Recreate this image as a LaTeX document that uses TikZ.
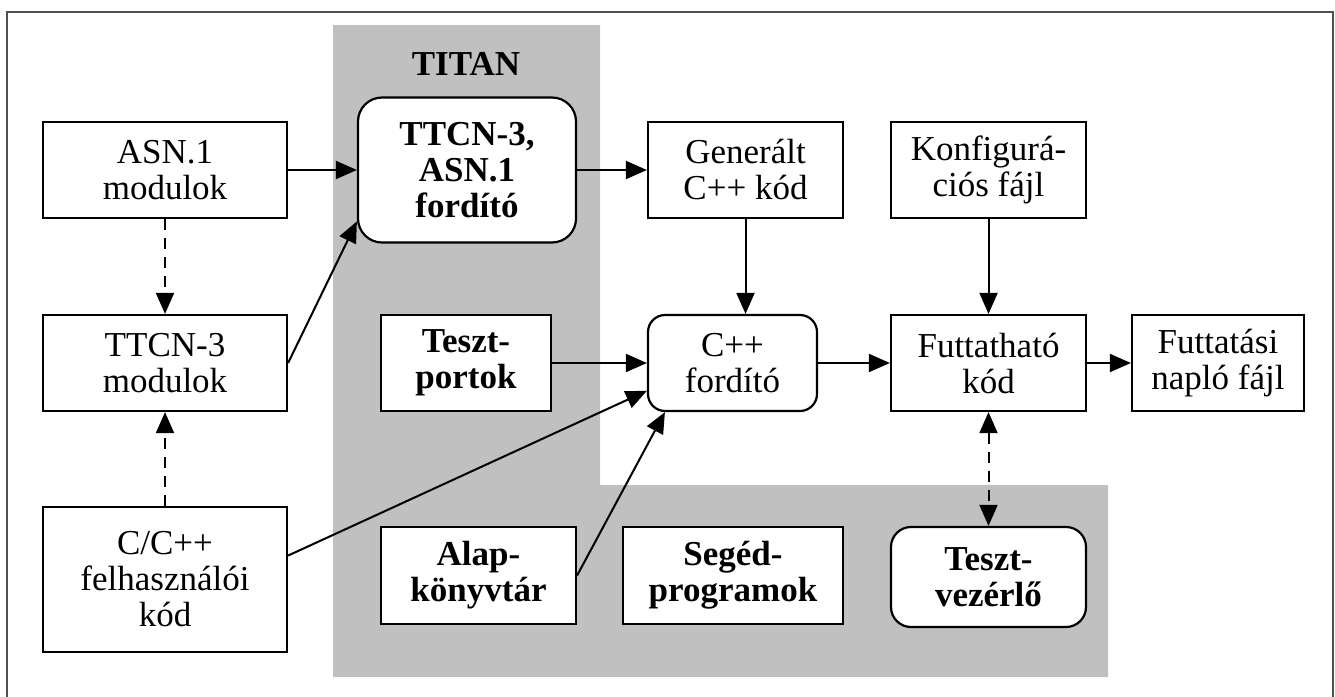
\documentclass[tikz,border=0pt]{standalone}
\usepackage{fontspec}
\setmainfont{Liberation Serif}
\usetikzlibrary{arrows.meta}
\definecolor{titangray}{RGB}{192,192,192}
\definecolor{framegray}{RGB}{80,80,80}
\begin{document}
\begin{tikzpicture}[x=1pt,y=-1pt,
  >={Triangle[length=21pt,width=18pt]},
  box/.style={draw, line width=2.2pt, fill=white, align=center, inner sep=0pt,
    font=\fontsize{35}{36}\selectfont},
  rbox/.style={box, rounded corners=20pt},
  bold/.style={font=\bfseries\fontsize{35}{36}\selectfont},
  arr/.style={line width=2pt, ->},
  darr/.style={line width=2pt, dash pattern=on 11pt off 8pt}
]
\useasboundingbox (0,0) rectangle (1335,696);
% TITAN region
\fill[titangray] (333,25) -- (600,25) -- (600,485) -- (1108,485) -- (1108,677) -- (333,677) -- cycle;
% frame
\draw[framegray, line width=1.5pt] (7,720) -- (7,12) -- (1333,12) -- (1333,720);
\node[bold, inner sep=0pt] (titan) at (466,64) {TITAN};

% nodes
\node[box, minimum width=244pt, minimum height=96pt] (asn) at (165,170) {ASN.1\\modulok};
\node[rbox, bold, rounded corners=24pt, minimum width=218pt, minimum height=145pt] (comp) at (467,170) {TTCN-3,\\ASN.1\\fordító};
\node[box, minimum width=195pt, minimum height=96pt] (gen) at (745.5,170) {Generált\\C++ kód};
\node[box, minimum width=195pt, minimum height=96pt] (konf) at (988.5,170) {Konfigurá-\\ciós fájl};

\node[box, minimum width=244pt, minimum height=96pt] (ttcn) at (165,363) {TTCN-3\\modulok};
\node[box, bold, minimum width=170pt, minimum height=96pt] (portok) at (466,363) {Teszt-\\portok};
\node[rbox, rounded corners=17pt, minimum width=169pt, minimum height=96pt] (cpp) at (732.5,363) {C++\\fordító};
\node[box, minimum width=195pt, minimum height=96pt] (fut) at (988.5,363) {Futtatható\\kód};
\node[box, minimum width=172pt, minimum height=96pt] (naplo) at (1218,363) {Futtatási\\napló fájl};

\node[box, minimum width=244pt, minimum height=145pt] (user) at (165,579.5) {C/C++\\felhasználói\\kód};
\node[box, bold, minimum width=195pt, minimum height=97pt] (alap) at (478.5,575.5) {Alap-\\könyvtár};
\node[box, bold, minimum width=220pt, minimum height=97pt] (seged) at (733,575.5) {Segéd-\\programok};
\node[rbox, bold, minimum width=195pt, minimum height=100pt] (vez) at (988.5,577) {Teszt-\\vezérlő};

% connectors
\draw[arr] (asn) -- (comp);
\draw[arr] (ttcn.east) -- (comp.205);
\draw[darr, ->] (asn) -- (ttcn);
\draw[darr, ->] (user) -- (ttcn);
\draw[arr] (comp) -- (gen);
\draw[arr] (gen.south) -- (gen.south |- cpp.north);
\draw[arr] (konf) -- (fut);
\draw[arr] (portok) -- (cpp);
\draw[arr] (user.11) -- (cpp.198);
\draw[arr] (alap.east) -- (cpp.216);
\draw[arr] (cpp) -- (fut);
\draw[arr] (fut) -- (naplo);
\draw[darr, <->] (fut) -- (vez);
\end{tikzpicture}
\end{document}
